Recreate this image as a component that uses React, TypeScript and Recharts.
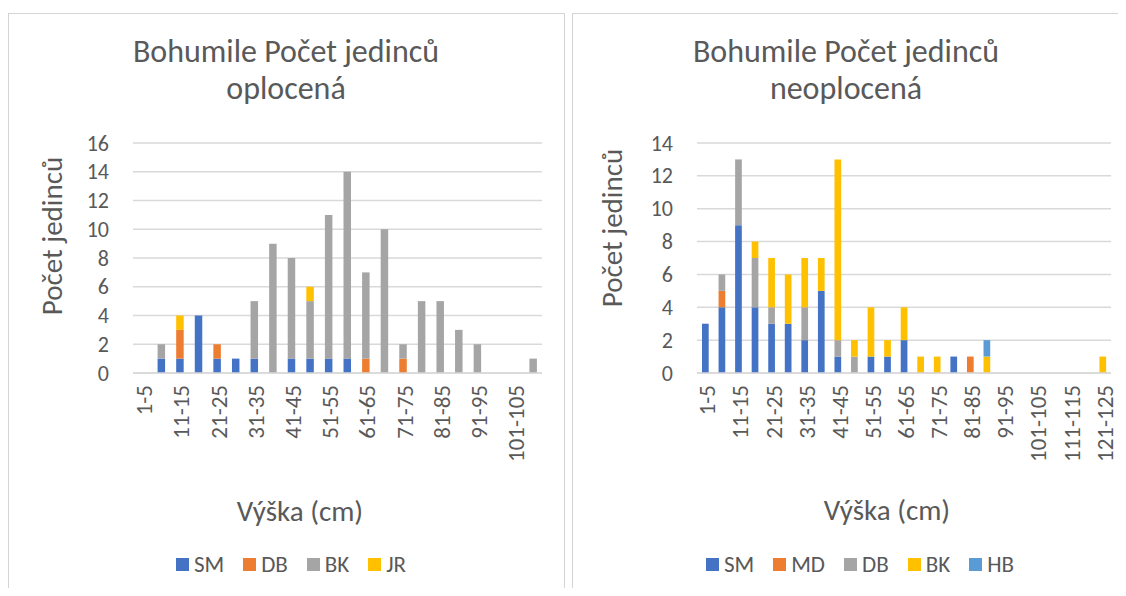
import React from 'react';
import { BarChart, Bar, XAxis, YAxis, CartesianGrid } from 'recharts';

const FONT = 'Calibri, Carlito, Lato, sans-serif';
const TEXT = '#595959';
const GRID = '#d9d9d9';
const BORDER = '#d4d4d4';

// oplocená (fenced)
const fencedCats = [
  '1-5', '6-10', '11-15', '16-20', '21-25', '26-30', '31-35', '36-40', '41-45', '46-50', '51-55',
  '56-60', '61-65', '66-70', '71-75', '76-80', '81-85', '86-90', '91-95', '96-100', '101-105', '106-110',
];
const fencedSM = [0, 1, 1, 4, 1, 1, 1, 0, 1, 1, 1, 1, 0, 0, 0, 0, 0, 0, 0, 0, 0, 0];
const fencedDB = [0, 0, 2, 0, 1, 0, 0, 0, 0, 0, 0, 0, 1, 0, 1, 0, 0, 0, 0, 0, 0, 0];
const fencedBK = [0, 1, 0, 0, 0, 0, 4, 9, 7, 4, 10, 13, 6, 10, 1, 5, 5, 3, 2, 0, 0, 1];
const fencedJR = [0, 0, 1, 0, 0, 0, 0, 0, 0, 1, 0, 0, 0, 0, 0, 0, 0, 0, 0, 0, 0, 0];
const fencedTicks = [0, 2, 4, 6, 8, 10, 12, 14, 16];

// neoplocená (unfenced)
const openCats = [
  '1-5', '6-10', '11-15', '16-20', '21-25', '26-30', '31-35', '36-40', '41-45', '46-50', '51-55',
  '56-60', '61-65', '66-70', '71-75', '76-80', '81-85', '86-90', '91-95', '96-100', '101-105',
  '106-110', '111-115', '116-120', '121-125',
];
const openSM = [3, 4, 9, 4, 3, 3, 2, 5, 1, 0, 1, 1, 2, 0, 0, 1, 0, 0, 0, 0, 0, 0, 0, 0, 0];
const openMD = [0, 1, 0, 0, 0, 0, 0, 0, 0, 0, 0, 0, 0, 0, 0, 0, 1, 0, 0, 0, 0, 0, 0, 0, 0];
const openDB = [0, 1, 4, 3, 1, 0, 2, 0, 1, 1, 0, 0, 0, 0, 0, 0, 0, 0, 0, 0, 0, 0, 0, 0, 0];
const openBK = [0, 0, 0, 1, 3, 3, 3, 2, 11, 1, 3, 1, 2, 1, 1, 0, 0, 1, 0, 0, 0, 0, 0, 0, 1];
const openHB = [0, 0, 0, 0, 0, 0, 0, 0, 0, 0, 0, 0, 0, 0, 0, 0, 0, 1, 0, 0, 0, 0, 0, 0, 0];
const openTicks = [0, 2, 4, 6, 8, 10, 12, 14];

const fencedSeries = [
  { key: 'SM', values: fencedSM, color: '#4472C4' },
  { key: 'DB', values: fencedDB, color: '#ED7D31' },
  { key: 'BK', values: fencedBK, color: '#A5A5A5' },
  { key: 'JR', values: fencedJR, color: '#FFC000' },
];

const openSeries = [
  { key: 'SM', values: openSM, color: '#4472C4' },
  { key: 'MD', values: openMD, color: '#ED7D31' },
  { key: 'DB', values: openDB, color: '#A5A5A5' },
  { key: 'BK', values: openBK, color: '#FFC000' },
  { key: 'HB', values: openHB, color: '#5B9BD5' },
];

type Series = { key: string; values: number[]; color: string };

function buildRows(cats: string[], series: Series[]) {
  return cats.map((cat, i) => {
    const row: Record<string, any> = { cat };
    series.forEach(s => { row[s.key] = s.values[i]; });
    return row;
  });
}

const XTick = (props: any) => {
  const { x, y, payload } = props;
  return (
    <g transform={`translate(${x + 2},${y})`}>
      <text transform="rotate(-90)" x={-12} y={0} textAnchor="end" dominantBaseline="central"
        fill={TEXT} fontSize={23} fontFamily={FONT}>
        {payload.value}
      </text>
    </g>
  );
};

const YTick = (props: any) => {
  const { x, y, payload } = props;
  return (
    <text x={x - 24} y={y} textAnchor="end" dominantBaseline="central"
      fill={TEXT} fontSize={22} fontFamily={FONT}>
      {payload.value}
    </text>
  );
};

function Legend({ series, center }: { series: Series[]; center: number }) {
  return (
    <div style={{
      position: 'absolute', left: center - 8 - 250, top: 544, width: 500, height: 24,
      display: 'flex', justifyContent: 'center', alignItems: 'center', gap: 19,
      fontFamily: FONT, fontSize: 23, color: TEXT,
    }}>
      {series.map(s => (
        <div key={s.key} style={{ display: 'flex', alignItems: 'center' }}>
          <span style={{ width: 13, height: 13, background: s.color, marginRight: 5, display: 'inline-block' }} />
          <span>{s.key}</span>
        </div>
      ))}
    </div>
  );
}

function Chart({ cats, series, ticks, left, width, marginRight, barSize }: {
  cats: string[]; series: Series[]; ticks: number[]; left: number; width: number; marginRight: number; barSize: number;
}) {
  const rows = buildRows(cats, series);
  return (
    <div style={{ position: 'absolute', left: left - 8, top: 5 }}>
      <BarChart width={width} height={560} data={rows}
        margin={{ top: 130, right: marginRight, left: 95, bottom: 100 }}>
        <CartesianGrid vertical={false} stroke={GRID} strokeWidth={1.5} />
        <XAxis dataKey="cat" interval={1} height={100} tickLine={false} tickSize={0} tickMargin={0}
          axisLine={{ stroke: GRID, strokeWidth: 1.5 }} tick={<XTick />} />
        <YAxis width={30} domain={[0, ticks[ticks.length - 1]]} ticks={ticks} axisLine={false}
          tickLine={false} tickSize={0} tickMargin={0} tick={<YTick />} />
        {series.map(s => (
          <Bar key={s.key} dataKey={s.key} stackId="a" fill={s.color} barSize={barSize}
            isAnimationActive={false} />
        ))}
      </BarChart>
    </div>
  );
}

export default function App() {
  const titleStyle = { fill: TEXT, fontFamily: FONT, fontSize: 32, fontWeight: 300 };
  const axisStyle = { fill: TEXT, fontFamily: FONT, fontSize: 29 };
  return (
    <div style={{ position: 'relative', width: 1118, height: 588, marginBottom: -8, overflow: 'hidden', background: '#fff' }}>
      <div style={{ position: 'absolute', left: 0, top: 5, width: 555, height: 600, border: `1px solid ${BORDER}` }} />
      <div style={{ position: 'absolute', left: 564, top: 5, width: 600, height: 600, border: `1px solid ${BORDER}` }} />

      <Chart cats={fencedCats} series={fencedSeries} ticks={fencedTicks} left={8} width={556} marginRight={22} barSize={7.5} />
      <Chart cats={openCats} series={openSeries} ticks={openTicks} left={572} width={548} marginRight={9} barSize={6.7} />

      <svg width={1118} height={588} style={{ position: 'absolute', left: 0, top: 0, pointerEvents: 'none' }}>
        <g transform="translate(-8,-8)">
          <text x={286} y={62} textAnchor="middle" {...titleStyle}>Bohumile Počet jedinců</text>
          <text x={286} y={99} textAnchor="middle" {...titleStyle}>oplocená</text>
          <text x={846} y={62} textAnchor="middle" {...titleStyle}>Bohumile Počet jedinců</text>
          <text x={846} y={99} textAnchor="middle" {...titleStyle}>neoplocená</text>

          <text transform="translate(62,236) rotate(-90)" textAnchor="middle" {...axisStyle}>Počet jedinců</text>
          <text transform="translate(622,228) rotate(-90)" textAnchor="middle" {...axisStyle}>Počet jedinců</text>

          <text x={300} y={521} textAnchor="middle" {...axisStyle}>Výška (cm)</text>
          <text x={887} y={520} textAnchor="middle" {...axisStyle}>Výška (cm)</text>
        </g>
      </svg>

      <Legend series={fencedSeries} center={291} />
      <Legend series={openSeries} center={860} />
    </div>
  );
}
